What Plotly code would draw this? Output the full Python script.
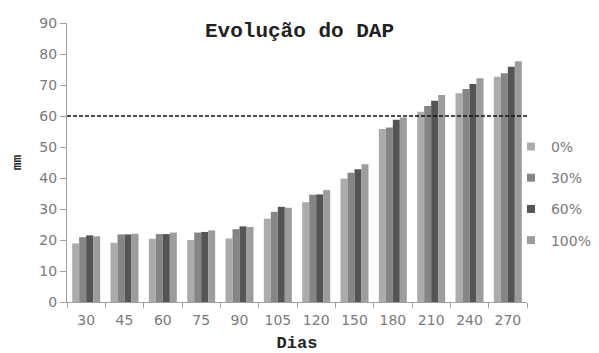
import plotly.graph_objects as go

# Days after planting (x categories)
dias = ["30", "45", "60", "75", "90", "105", "120", "150", "180", "210", "240", "270"]

# Stem diameter (DAP, mm) per treatment
dap_0 = [18.9, 19.1, 20.4, 20.0, 20.5, 26.9, 32.2, 39.8, 55.8, 61.4, 67.3, 72.7]
dap_30 = [20.9, 21.8, 21.9, 22.4, 23.5, 29.1, 34.6, 41.7, 56.3, 63.2, 68.7, 73.8]
dap_60 = [21.5, 21.8, 21.9, 22.6, 24.4, 30.7, 34.7, 42.8, 58.8, 64.9, 70.3, 75.9]
dap_100 = [21.2, 22.0, 22.4, 23.1, 24.2, 30.4, 36.1, 44.4, 59.5, 66.8, 72.2, 77.7]

series_names = ["0%", "30%", "60%", "100%"]
series_values = [dap_0, dap_30, dap_60, dap_100]
series_colors = ["#ababab", "#858585", "#545454", "#9c9c9c"]

reference_level = 60

fig = go.Figure()
for i, (name, vals, col) in enumerate(zip(series_names, series_values, series_colors)):
    fig.add_trace(go.Bar(
        x=dias, y=vals, name=name, legendgroup=f"g{i}", showlegend=False,
        marker=dict(color=col, line=dict(width=0)),
    ))
    # small square swatch for the legend entry
    fig.add_trace(go.Scatter(
        x=[None], y=[None], mode="markers", name=name, legendgroup=f"g{i}",
        marker=dict(symbol="square", size=8, color=col),
        hoverinfo="skip",
    ))

fig.add_shape(
    type="line", xref="paper", x0=0, x1=1, yref="y",
    y0=reference_level, y1=reference_level,
    line=dict(color="#111111", width=1.6, dash="4px,2px"),
)

axis_gray = "#a0a0a0"
tick_font = dict(family="DejaVu Sans", size=14, color="#7a7a7a")

fig.update_layout(
    width=599, height=353,
    margin=dict(l=67, r=72, t=23, b=51, autoexpand=False),
    paper_bgcolor="white", plot_bgcolor="white",
    barmode="group", bargap=0.27, bargroupgap=0,
    title=dict(
        text="<b>Evolução do DAP</b>",
        font=dict(family="Liberation Mono", size=21, color="#222222"),
        x=0.5, xanchor="center", y=0.915, yanchor="middle",
    ),
    showlegend=True,
    legend=dict(
        xref="container", yref="container",
        x=0.853, xanchor="left", y=0.452, yanchor="middle",
        font=dict(family="DejaVu Sans", size=14, color="#7a7a7a"),
        tracegroupgap=10, itemwidth=30,
        bgcolor="rgba(0,0,0,0)",
    ),
    xaxis=dict(
        type="category", tickson="boundaries", tickangle=0, automargin=False,
        showline=True, linecolor=axis_gray, linewidth=1,
        ticks="outside", ticklen=5, tickcolor=axis_gray,
        tickfont=tick_font, showgrid=False, ticklabelstandoff=5,
        title=dict(text="<b>Dias</b>", standoff=10,
                   font=dict(family="Liberation Mono", size=17, color="#222222")),
    ),
    yaxis=dict(
        range=[0, 90], dtick=10, automargin=False,
        showline=True, linecolor=axis_gray, linewidth=1,
        ticks="outside", ticklen=6, tickcolor=axis_gray,
        tickfont=tick_font, showgrid=False, zeroline=False,
        title=dict(text="<b>mm</b>", standoff=14,
                   font=dict(family="Liberation Mono", size=13, color="#222222")),
    ),
)

fig.write_html("out.html")
